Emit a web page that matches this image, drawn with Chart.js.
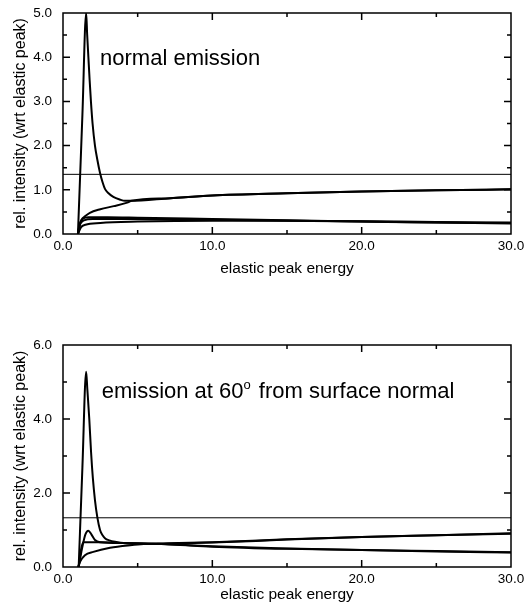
<!DOCTYPE html>
<html lang="en">
<head>
<meta charset="UTF-8">
<title>Relative intensity vs elastic peak energy</title>
<script src="https://cdn.jsdelivr.net/npm/chart.js"></script>
<style>
  body { margin: 0; background: #fff; }
  .panel { position: absolute; left: 0; }
  #topPanel { top: 0; }
  #bottomPanel { top: 310px; }
</style>
</head>
<body>
<div class="panel" id="topPanel"><canvas id="normalChart" width="525" height="290"></canvas></div>
<div class="panel" id="bottomPanel"><canvas id="angleChart" width="525" height="300"></canvas></div>

<script>
// ticks
const xTicks = [0, 10, 20, 30];
const xMinor = [5, 15, 25];
const topYTicks = [0, 1, 2, 3, 4, 5];
const topYMinor = [0.5, 1.5, 2.5, 3.5, 4.5];
const bottomYTicks = [0, 2, 4, 6];
const bottomYMinor = [1, 3, 5];

// horizontal reference level
const topRefLevel = 1.35;
const bottomRefLevel = 1.33;

// normal emission curves, [energy, intensity]
const topPeak = [[1.0, 0], [1.3, 2.7], [1.55, 5.0], [1.62, 4.5], [1.7, 4.0], [1.78, 3.5], [1.87, 3.0], [1.98, 2.5],
  [2.14, 2.0], [2.3, 1.68], [2.48, 1.38], [2.65, 1.17], [2.81, 1.02], [3.05, 0.92], [3.37, 0.84],
  [3.8, 0.78], [4.15, 0.75], [4.5, 0.75], [7.2, 0.81], [10, 0.87], [15, 0.92], [20, 0.96], [25, 0.99], [30, 1.01]];
const topRising = [[1.0, 0], [1.1, 0.2], [1.25, 0.33], [1.47, 0.4], [1.8, 0.48], [2.5, 0.56], [3.4, 0.63],
  [4.3, 0.71], [4.6, 0.75], [7.2, 0.81], [10, 0.87], [15, 0.92], [20, 0.96], [25, 0.99], [30, 1.01]];
const topFlatA = [[1.0, 0], [1.15, 0.25], [1.35, 0.35], [1.7, 0.38], [3, 0.38], [5, 0.37], [10, 0.34],
  [15, 0.31], [20, 0.28], [25, 0.26], [30, 0.24]];
const topFlatB = [[1.0, 0], [1.15, 0.22], [1.4, 0.31], [2, 0.34], [5, 0.34], [10, 0.32], [15, 0.3],
  [20, 0.28], [25, 0.26], [30, 0.25]];
const topLow = [[1.0, 0], [1.2, 0.15], [1.5, 0.21], [2.5, 0.25], [5, 0.28], [10, 0.3], [15, 0.3],
  [20, 0.29], [25, 0.27], [30, 0.26]];

// 60 degree emission curves
const bottomPeak = [[1.05, 0], [1.3, 2.7], [1.55, 5.28], [1.63, 4.8], [1.76, 4.0], [1.88, 3.1], [2.0, 2.4], [2.14, 1.81],
  [2.3, 1.34], [2.48, 1.0], [2.65, 0.86], [2.81, 0.78], [3.1, 0.72], [3.48, 0.68], [4.27, 0.64], [5.4, 0.63],
  [7, 0.64], [10, 0.67], [15, 0.75], [20, 0.81], [25, 0.86], [30, 0.91]];
const bottomBump = [[1.05, 0], [1.3, 0.55], [1.5, 0.88], [1.7, 0.98], [1.9, 0.88], [2.14, 0.73], [2.48, 0.67],
  [4, 0.65], [6, 0.63], [7, 0.62], [10, 0.55], [15, 0.49], [20, 0.46], [25, 0.42], [30, 0.39]];
const bottomFlat = [[1.05, 0], [1.2, 0.45], [1.36, 0.67], [2.5, 0.67], [4, 0.65], [6, 0.63], [7, 0.61],
  [10, 0.56], [15, 0.5], [20, 0.46], [25, 0.43], [30, 0.4]];
const bottomRising = [[1.0, 0], [1.15, 0.15], [1.47, 0.32], [2.03, 0.41], [3.15, 0.52], [4.5, 0.59],
  [5.4, 0.62], [7, 0.63], [10, 0.66], [15, 0.74], [20, 0.81], [25, 0.86], [30, 0.9]];

const FONT = "'Liberation Sans', Arial, Helvetica, sans-serif";

// frame with inward ticks on all four sides + the panel caption
const framePlugin = {
  id: 'frame',
  afterDatasetsDraw(chart, args, opts) {
    const { ctx, chartArea: a, scales: { x, y } } = chart;
    ctx.save();
    ctx.strokeStyle = '#000';
    ctx.lineWidth = 1.5;
    ctx.strokeRect(a.left, a.top, a.right - a.left, a.bottom - a.top);

    ctx.beginPath();
    const xMarks = opts.xMajor.map(v => [v, 7]).concat(opts.xMinor.map(v => [v, 4]));
    xMarks.forEach(([v, len]) => {
      const px = x.getPixelForValue(v);
      if (px <= a.left + 1 || px >= a.right - 1) return;
      ctx.moveTo(px, a.bottom); ctx.lineTo(px, a.bottom - len);
      ctx.moveTo(px, a.top); ctx.lineTo(px, a.top + len);
    });
    const yMarks = opts.yMajor.map(v => [v, 7]).concat(opts.yMinor.map(v => [v, 4]));
    yMarks.forEach(([v, len]) => {
      const py = y.getPixelForValue(v);
      if (py <= a.top + 1 || py >= a.bottom - 1) return;
      ctx.moveTo(a.left, py); ctx.lineTo(a.left + len, py);
      ctx.moveTo(a.right, py); ctx.lineTo(a.right - len, py);
    });
    ctx.stroke();

    // caption, anchored in data coordinates
    let cx = x.getPixelForValue(opts.at[0]);
    const cy = y.getPixelForValue(opts.at[1]);
    ctx.fillStyle = '#000';
    ctx.textBaseline = 'alphabetic';
    ctx.textAlign = 'left';
    opts.caption.forEach(part => {
      ctx.font = (part.sup ? '13px ' : '22px ') + FONT;
      ctx.fillText(part.text, cx, part.sup ? cy - 9 : cy);
      cx += ctx.measureText(part.text).width + (part.sup ? 2 : 0);
    });
    ctx.restore();
  }
};

function line(points, width) {
  return {
    data: points.map(p => ({ x: p[0], y: p[1] })),
    borderColor: '#000',
    borderWidth: width,
    pointRadius: 0,
    showLine: true,
    cubicInterpolationMode: 'monotone',
    fill: false
  };
}

function makeChart(id, curves, refLevel, yTicks, yMinor, caption, at, pad) {
  const datasets = [line([[0, refLevel], [30, refLevel]], 1)].concat(curves.map(c => line(c, 2)));
  return new Chart(document.getElementById(id), {
    type: 'scatter',
    data: { datasets },
    options: {
      responsive: false,
      animation: false,
      devicePixelRatio: 1,
      layout: { padding: { top: pad.top, right: 14, left: 0, bottom: 0 } },
      plugins: {
        legend: { display: false },
        tooltip: { enabled: false },
        frame: { xMajor: xTicks, xMinor: xMinor, yMajor: yTicks, yMinor: yMinor, caption: caption, at: at }
      },
      scales: {
        x: {
          type: 'linear',
          min: 0,
          max: 30,
          afterBuildTicks: s => { s.ticks = xTicks.map(v => ({ value: v })); },
          afterFit: s => { s.height = pad.xHeight; s.paddingLeft = 0; s.paddingRight = 0; },
          grid: { display: false, drawTicks: false },
          border: { display: false },
          ticks: {
            padding: 4,
            color: '#000',
            font: { family: FONT, size: 13.5 },
            maxRotation: 0,
            callback: v => v.toFixed(1)
          },
          title: {
            display: true,
            text: 'elastic peak energy',
            color: '#000',
            font: { family: FONT, size: 15.5 },
            padding: { top: 0, bottom: pad.titleBottom }
          }
        },
        y: {
          type: 'linear',
          min: 0,
          max: yTicks[yTicks.length - 1],
          afterBuildTicks: s => { s.ticks = yTicks.map(v => ({ value: v })); },
          afterFit: s => { s.width = 63; s.paddingTop = 0; s.paddingBottom = 0; },
          grid: { display: false, drawTicks: false },
          border: { display: false },
          ticks: {
            padding: 11,
            color: '#000',
            font: { family: FONT, size: 13.5 },
            callback: v => v.toFixed(1)
          },
          title: {
            display: true,
            text: 'rel. intensity (wrt elastic peak)',
            color: '#000',
            font: { family: FONT, size: 16 },
            padding: { top: 11, bottom: 0 }
          }
        }
      }
    },
    plugins: [framePlugin]
  });
}

makeChart('normalChart', [topPeak, topRising, topFlatA, topFlatB, topLow], topRefLevel,
  topYTicks, topYMinor, [{ text: 'normal emission' }], [2.48, 3.82],
  { top: 13, xHeight: 56, titleBottom: 12 });

makeChart('angleChart', [bottomPeak, bottomBump, bottomFlat, bottomRising], bottomRefLevel,
  bottomYTicks, bottomYMinor,
  [{ text: 'emission at 60' }, { text: 'o', sup: true }, { text: ' from surface normal' }],
  [2.59, 4.57],
  { top: 35, xHeight: 43, titleBottom: 6 });
</script>
</body>
</html>
